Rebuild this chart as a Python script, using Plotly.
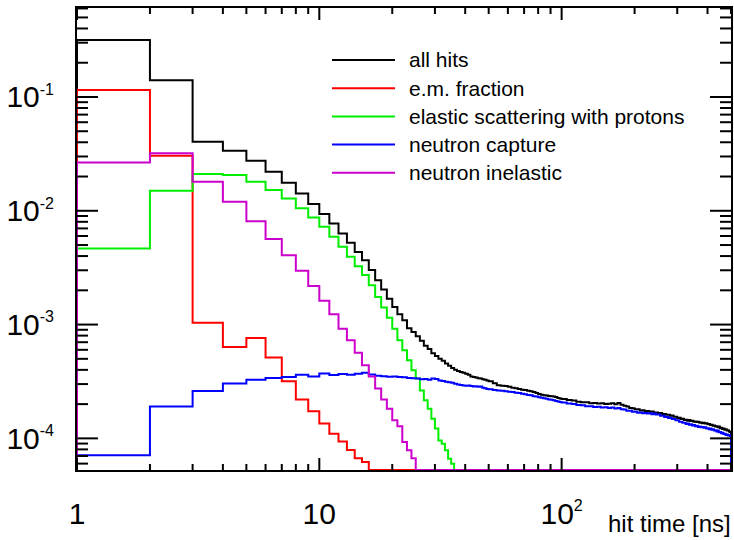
import math
import plotly.graph_objects as go

# ---------------- data ----------------
# bin lower edges: 1-ns bins up to 50 ns, 2-ns bins to 100 ns, 5-ns bins to 500 ns
BIN_EDGES = list(range(1, 51)) + list(range(52, 101, 2)) + list(range(105, 501, 5))

ALL_HITS_HEAD = [0.317, 0.140, 0.0404, 0.0337, 0.0275, 0.0220, 0.0176, 0.0142, 0.01146, 0.00935,
                 0.00774, 0.00632, 0.00523, 0.00435, 0.00368, 0.00301, 0.00245, 0.00203, 0.00169, 0.00143,
                 0.00123, 0.00109, 9.3e-4, 8.6e-4, 7.9e-4, 7.2e-4, 6.5e-4, 6.1e-4, 5.6e-4, 5.3e-4,
                 5.0e-4, 4.8e-4, 4.55e-4, 4.35e-4, 4.15e-4, 4.0e-4, 3.9e-4, 3.83e-4, 3.78e-4, 3.7e-4,
                 3.62e-4, 3.5e-4, 3.46e-4, 3.42e-4, 3.38e-4, 3.35e-4, 3.3e-4, 3.28e-4, 3.22e-4]
ALL_HITS_MID = [3.18e-4, 3.05e-4, 2.93e-4, 2.9e-4, 2.88e-4, 2.84e-4, 2.78e-4, 2.75e-4, 2.72e-4, 2.68e-4,
                2.66e-4, 2.62e-4, 2.6e-4, 2.55e-4, 2.5e-4, 2.46e-4, 2.42e-4, 2.39e-4, 2.38e-4, 2.36e-4,
                2.34e-4, 2.33e-4, 2.31e-4, 2.26e-4, 2.24e-4]
ALL_HITS_TAIL_E6 = [222, 217, 215, 210, 208, 208, 204, 205, 202, 203,
                    200, 201, 204, 199, 205, 197, 193, 191, 185, 184,
                    180, 180, 176, 177, 173, 174, 171, 172, 169, 169,
                    166, 167, 163, 164, 161, 161, 158, 159, 155, 155,
                    151, 152, 148, 149, 145, 146, 143, 145, 142, 143,
                    140, 141, 139, 140, 137, 138, 136, 137, 135, 136,
                    133, 134, 131, 132, 129, 130, 127, 128, 125, 127,
                    123, 124, 121, 122, 119, 120, 117, 118, 115, 114]

EM_FRACTION = [0.115, 0.0305, 1.04e-3, 6.35e-4, 7.64e-4, 5.13e-4, 3.17e-4, 2.2e-4, 1.73e-4, 1.35e-4,
               1.10e-4, 9.4e-5, 7.9e-5, 6.7e-5, 6.2e-5]

ELASTIC_P = [4.66e-3, 0.0150, 0.0210, 0.0206, 0.0180, 0.0152, 0.01285, 0.0105, 8.75e-3, 7.23e-3,
             5.9e-3, 4.82e-3, 3.94e-3, 3.26e-3, 2.72e-3, 2.22e-3, 1.75e-3, 1.41e-3, 1.15e-3, 9.2e-4,
             7.28e-4, 5.94e-4, 4.85e-4, 3.96e-4, 3.35e-4, 2.64e-4, 2.16e-4, 1.82e-4, 1.49e-4, 1.22e-4,
             9.6e-5, 8.97e-5, 7.85e-5, 6.63e-5, 5.98e-5]

CAPTURE_HEAD = [7.1e-5, 1.91e-4, 2.61e-4, 3.03e-4, 3.28e-4, 3.39e-4, 3.46e-4, 3.63e-4, 3.5e-4, 3.71e-4,
                3.6e-4, 3.68e-4, 3.62e-4, 3.7e-4, 3.78e-4, 3.65e-4, 3.55e-4, 3.52e-4, 3.48e-4, 3.5e-4,
                3.46e-4, 3.44e-4, 3.4e-4, 3.38e-4, 3.35e-4, 3.3e-4, 3.32e-4, 3.28e-4, 3.36e-4, 3.33e-4,
                3.22e-4, 3.2e-4, 3.15e-4, 3.12e-4, 3.08e-4, 3.02e-4, 2.98e-4, 2.95e-4, 2.92e-4, 2.9e-4,
                2.92e-4, 2.88e-4, 2.86e-4, 2.87e-4, 2.84e-4, 2.85e-4, 2.78e-4, 2.75e-4, 2.72e-4]
CAPTURE_MID = [2.7e-4, 2.66e-4, 2.63e-4, 2.62e-4, 2.6e-4, 2.57e-4, 2.55e-4, 2.52e-4, 2.5e-4, 2.47e-4,
               2.44e-4, 2.41e-4, 2.39e-4, 2.35e-4, 2.33e-4, 2.3e-4, 2.27e-4, 2.25e-4, 2.23e-4, 2.2e-4,
               2.18e-4, 2.16e-4, 2.13e-4, 2.11e-4, 2.09e-4]
CAPTURE_TAIL_E6 = [207, 202, 200, 196, 195, 192, 192, 189, 190, 187,
                   188, 185, 187, 183, 185, 180, 179, 175, 175, 171,
                   171, 168, 169, 166, 167, 165, 166, 163, 165, 162,
                   162, 158, 158, 154, 155, 151, 152, 148, 148, 144,
                   144, 140, 140, 137, 137, 134, 135, 132, 133, 130,
                   131, 128, 129, 126, 127, 125, 126, 124, 125, 122,
                   123, 120, 122, 119, 120, 117, 118, 115, 117, 113,
                   114, 111, 112, 109, 110, 107, 108, 106, 107, 105]

INELASTIC = [0.0266, 0.032, 0.0180, 0.0120, 8.1e-3, 5.64e-3, 4.07e-3, 2.97e-3, 2.18e-3, 1.62e-3,
             1.23e-3, 9.2e-4, 7.28e-4, 5.65e-4, 4.4e-4, 3.5e-4, 2.74e-4, 2.2e-4, 1.82e-4, 1.44e-4,
             1.28e-4, 9.3e-5, 7.85e-5, 6.7e-5]

SERIES = [
    ("all hits", ALL_HITS_HEAD + ALL_HITS_MID + [v * 1e-6 for v in ALL_HITS_TAIL_E6], "#000000"),
    ("e.m. fraction", EM_FRACTION, "#ff0000"),
    ("elastic scattering with protons", ELASTIC_P, "#00ee00"),
    ("neutron capture", CAPTURE_HEAD + CAPTURE_MID + [v * 1e-6 for v in CAPTURE_TAIL_E6], "#0000ff"),
    ("neutron inelastic", INELASTIC, "#cc00cc"),
]

SUP = '<sup><span style="font-size:16px">{}</span></sup>'
X_TICKS = [1, 10, 100]
X_TICKTEXT = ["1", "10", "10" + SUP.format("2")]
Y_TICKS = [1e-4, 1e-3, 1e-2, 1e-1]
Y_TICKTEXT = ["10" + SUP.format(e) for e in ("-4", "-3", "-2", "-1")]

# ---------------- figure ----------------
LOG_YMIN, LOG_YMAX = -4.278, -0.218
YFLOOR = 10 ** LOG_YMIN
XMAX = 500
LOG_XMIN, LOG_XMAX = 0.0, math.log10(XMAX)
FONT = "Liberation Sans, Arial, sans-serif"

n_bins = len(BIN_EDGES)
edges = BIN_EDGES + [XMAX]

fig = go.Figure()
for name, vals, color in SERIES:
    full = list(vals) + [0.0] * (n_bins - len(vals))
    ys = [v if v > 0 else YFLOOR for v in full]
    x = [edges[0]] + edges
    y = [YFLOOR] + ys + [ys[-1]]
    fig.add_trace(go.Scatter(x=x, y=y, mode="lines", name=name,
                             line=dict(color=color, width=2, shape="hv"),
                             showlegend=False, hoverinfo="skip"))

fig.update_layout(
    width=734, height=540,
    margin=dict(l=77, r=3, t=8, b=70, autoexpand=False),
    plot_bgcolor="white", paper_bgcolor="white",
    showlegend=False,
    font=dict(family=FONT, color="black"),
)
fig.update_xaxes(
    type="log", range=[LOG_XMIN, LOG_XMAX], automargin=False,
    tickmode="array", tickvals=X_TICKS, ticktext=X_TICKTEXT,
    ticks="", showline=True, linecolor="black", linewidth=2, mirror=True,
    showgrid=False, zeroline=False, layer="below traces",
    tickfont=dict(family=FONT, size=30, color="black"),
    ticklabelstandoff=16,
)
fig.update_yaxes(
    type="log", range=[LOG_YMIN, LOG_YMAX], automargin=False,
    tickmode="array", tickvals=Y_TICKS, ticktext=Y_TICKTEXT,
    ticks="", showline=True, linecolor="black", linewidth=2, mirror=True,
    showgrid=False, zeroline=False, layer="below traces",
    tickfont=dict(family=FONT, size=30, color="black"),
    ticklabelstandoff=15,
)

# ---- ROOT-style inside tick marks on all four sides (axis decoration) ----
plot_l, plot_r, plot_t, plot_b = 77, 731, 8, 470
W, H = plot_r - plot_l, plot_b - plot_t

def fx(v):  # x data value -> paper
    return (math.log10(v) - LOG_XMIN) / (LOG_XMAX - LOG_XMIN)
def fy(v):  # y data value -> paper
    return (math.log10(v) - LOG_YMIN) / (LOG_YMAX - LOG_YMIN)

tick_line = dict(color="black", width=2)
for d in range(0, 3):
    for k in range(1, 10):
        v = k * 10 ** d
        if v > XMAX or v < 1:
            continue
        ln = (12 if k == 1 else 6) / H
        p = fx(v)
        fig.add_shape(type="line", xref="paper", yref="paper", x0=p, x1=p, y0=0, y1=ln,
                      line=tick_line, layer="above")
        fig.add_shape(type="line", xref="paper", yref="paper", x0=p, x1=p, y0=1, y1=1 - ln,
                      line=tick_line, layer="above")
for d in range(-5, 0):
    for k in range(1, 10):
        v = k * 10 ** d
        lv = math.log10(v)
        if lv < LOG_YMIN or lv > LOG_YMAX:
            continue
        ln = (21 if k == 1 else 11) / W
        p = fy(v)
        fig.add_shape(type="line", xref="paper", yref="paper", x0=0, x1=ln, y0=p, y1=p,
                      line=tick_line, layer="above")
        fig.add_shape(type="line", xref="paper", yref="paper", x0=1, x1=1 - ln, y0=p, y1=p,
                      line=tick_line, layer="above")

# legend drawn in ROOT style (long line samples)
def px2paper_x(px):
    return (px - plot_l) / W
def px2paper_y(py):
    return (plot_b - py) / H

leg_y0, leg_dy = 60, 28.2
for i, (name, vals, color) in enumerate(SERIES):
    py = leg_y0 + i * leg_dy
    fig.add_shape(type="line", xref="paper", yref="paper",
                  x0=px2paper_x(332), x1=px2paper_x(395),
                  y0=px2paper_y(py), y1=px2paper_y(py),
                  line=dict(color=color, width=2))
    fig.add_annotation(text=name, xref="paper", yref="paper",
                       x=px2paper_x(407), y=px2paper_y(py),
                       xanchor="left", yanchor="middle", showarrow=False,
                       font=dict(family=FONT, size=21, color="black"))

fig.add_annotation(text="hit time [ns]", xref="paper", yref="paper",
                   x=px2paper_x(733), y=px2paper_y(523),
                   xanchor="right", yanchor="middle", showarrow=False,
                   font=dict(family=FONT, size=24, color="black"))

fig.write_html("out.html", config={"displayModeBar": False, "staticPlot": True},
               post_script="document.body.style.margin='0px';document.body.style.overflow='hidden';")
